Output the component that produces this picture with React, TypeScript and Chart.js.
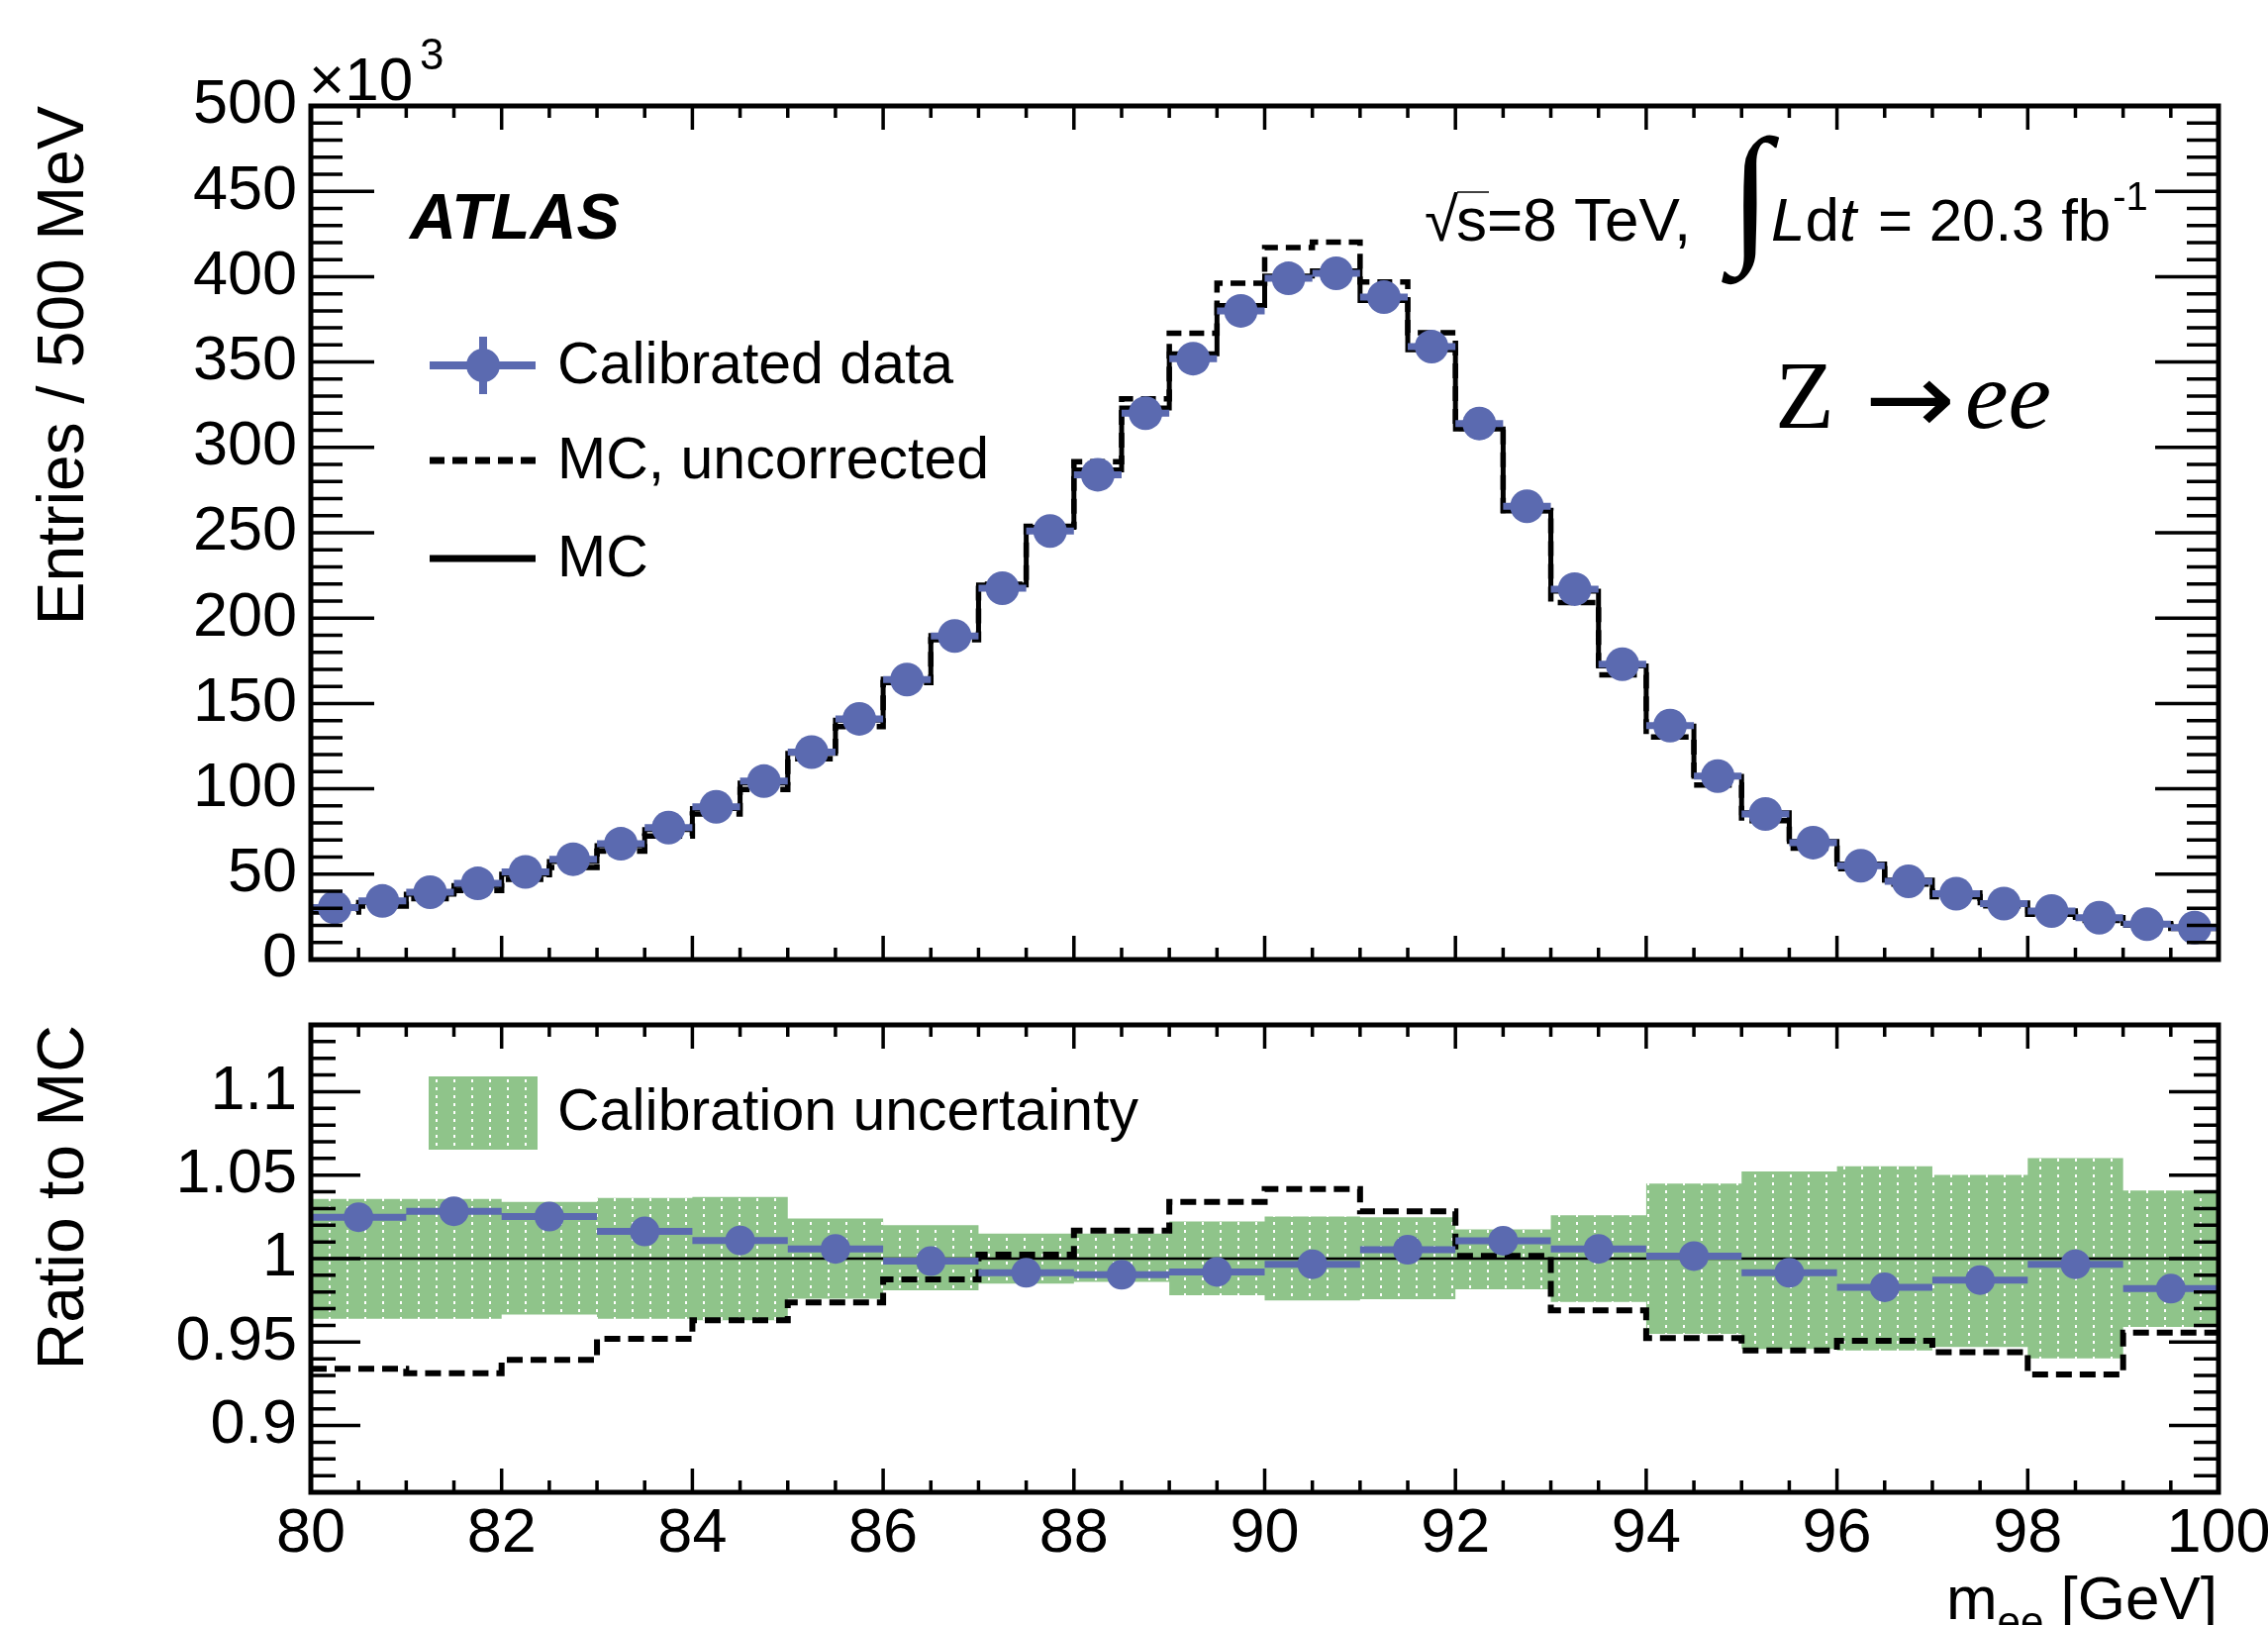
import React, { useEffect, useRef } from "react";
import { Chart, registerables } from "chart.js";

Chart.register(...registerables);

const FONT = '"Liberation Sans", Arial, Helvetica, sans-serif';
const SERIF = '"Liberation Serif", "Times New Roman", serif';
const BLUE = "#5b6ab0";
const GREEN = "#8fc48a";

// ---------- upper panel: 0.5 GeV bins (values in units of 10^3 entries) ----------
const MASS_TOP = [
  80.25, 80.75, 81.25, 81.75, 82.25, 82.75, 83.25, 83.75, 84.25, 84.75,
  85.25, 85.75, 86.25, 86.75, 87.25, 87.75, 88.25, 88.75, 89.25, 89.75,
  90.25, 90.75, 91.25, 91.75, 92.25, 92.75, 93.25, 93.75, 94.25, 94.75,
  95.25, 95.75, 96.25, 96.75, 97.25, 97.75, 98.25, 98.75, 99.25, 99.75,
];
const BIN_W_TOP = 0.5;
const DATA_TOP = [
  30.5, 34.3, 39.4, 44.6, 51.3, 58.8, 67.8, 77.3, 89.5, 104.5,
  121.5, 141, 164, 189.5, 217.5, 251, 284, 320, 352, 380,
  399, 402, 388, 359, 314, 265.5, 217, 173, 137, 107.5,
  85.3, 68.5, 55, 45.8, 38.6, 32.8, 28.4, 24.5, 20.7, 18.7,
];
const MC_TOP = [
  29.8, 33.5, 38.3, 43.4, 50.0, 57.4, 66.7, 76.1, 88.5, 103.4,
  120.8, 140.2, 164.3, 189.8, 219.4, 253.2, 286.8, 323.1, 354.8, 383.1,
  400.4, 403.4, 386.0, 357.1, 310.7, 262.7, 215.8, 172.0, 136.8, 107.3,
  86.0, 69.1, 56.0, 46.6, 39.1, 33.2, 28.5, 24.6, 21.1, 19.0,
];
const MC_UNCORR_TOP = [
  27.8, 31.3, 35.7, 40.4, 47.0, 53.9, 63.5, 72.4, 85.3, 99.6,
  117.6, 136.5, 162.2, 187.4, 219.9, 253.8, 291.6, 328.5, 366.9, 396.1,
  417.1, 420.2, 396.9, 367.2, 311.2, 263.1, 209.1, 166.7, 130.3, 102.2,
  81.3, 65.3, 53.2, 44.3, 36.9, 31.4, 26.5, 22.9, 20.1, 18.2,
];

// ---------- lower panel: 1 GeV bins ----------
const MASS_RATIO = [
  80.5, 81.5, 82.5, 83.5, 84.5, 85.5, 86.5, 87.5, 88.5, 89.5,
  90.5, 91.5, 92.5, 93.5, 94.5, 95.5, 96.5, 97.5, 98.5, 99.5,
];
const BIN_W_RATIO = 1;
const RATIO_DATA = [
  1.0248, 1.0284, 1.0252, 1.0163, 1.0109, 1.0058, 0.9985, 0.9915, 0.9903, 0.992,
  0.9966, 1.0053, 1.0107, 1.0058, 1.0015, 0.9915, 0.9828, 0.9871, 0.9966, 0.982,
];
const RATIO_UNCORR = [
  0.934, 0.9313, 0.9393, 0.952, 0.963, 0.9738, 0.9876, 1.0024, 1.0167, 1.034,
  1.0417, 1.0284, 1.0017, 0.969, 0.9524, 0.945, 0.9507, 0.944, 0.9306, 0.9556,
];
const BAND_UP = [
  1.0357, 1.0357, 1.034, 1.0364, 1.0369, 1.024, 1.02, 1.015, 1.015, 1.0223,
  1.0252, 1.0248, 1.0175, 1.026, 1.0449, 1.0522, 1.0553, 1.0502, 1.0602, 1.0408,
];
const BAND_LO = [
  0.964, 0.964, 0.9665, 0.964, 0.963, 0.976, 0.981, 0.985, 0.986, 0.978,
  0.975, 0.9757, 0.9816, 0.974, 0.9549, 0.9459, 0.945, 0.947, 0.9403, 0.959,
];

// ---------- axes ----------
const X_TICK_LABELS = [80, 82, 84, 86, 88, 90, 92, 94, 96, 98, 100];
const TOP_Y_TICK_LABELS = [0, 50, 100, 150, 200, 250, 300, 350, 400, 450, 500];
const RATIO_Y_TICK_LABELS = [0.9, 0.95, 1, 1.05, 1.1];

// ---------- helpers building library data from the arrays ----------
const stepPoints = (centres: number[], w: number, vals: number[]) => {
  const pts: any[] = centres.map((c, i) => ({ x: c - w / 2, y: vals[i] }));
  pts.push({ x: centres[centres.length - 1] + w / 2, y: vals[vals.length - 1] });
  return pts;
};
const hBars = (centres: number[], w: number, vals: number[]) =>
  centres.flatMap((c, i) => [
    { x: c - w / 2, y: vals[i] },
    { x: c + w / 2, y: vals[i] },
    { x: c + w / 2, y: null },
  ]);
const markers = (centres: number[], vals: number[]) => centres.map((c, i) => ({ x: c, y: vals[i] }));

const framePlugin = (cfg: any) => ({
  id: "rootFrame",
  afterDatasetsDraw(chart: any) {
    const { ctx, chartArea } = chart;
    const { left, right, top, bottom } = chartArea;
    const xs = chart.scales.x;
    const ys = chart.scales.y;
    ctx.save();
    ctx.strokeStyle = "#000";
    ctx.lineCap = "butt";
    ctx.lineWidth = 3.5;
    ctx.beginPath();
    for (let i = 0; i <= cfg.xN; i++) {
      const px = xs.getPixelForValue(cfg.xMin + i * cfg.xStep);
      const len = i % cfg.xMajorEvery === 0 ? cfg.xMajorLen : cfg.xMinorLen;
      ctx.moveTo(px, bottom);
      ctx.lineTo(px, bottom - len);
      ctx.moveTo(px, top);
      ctx.lineTo(px, top + len);
    }
    for (let j = 0; j <= cfg.yN; j++) {
      const py = ys.getPixelForValue(cfg.yMin + j * cfg.yStep);
      const len = cfg.yIsMajor(j) ? cfg.yMajorLen : cfg.yMinorLen;
      ctx.moveTo(left, py);
      ctx.lineTo(left + len, py);
      ctx.moveTo(right, py);
      ctx.lineTo(right - len, py);
    }
    ctx.stroke();
    ctx.lineWidth = 5;
    ctx.strokeRect(left, top, right - left, bottom - top);
    ctx.restore();
  },
});

// draw a glyph so that its ink starts at x = left
const fillAtLeft = (ctx: CanvasRenderingContext2D, s: string, left: number, y: number) => {
  const m = ctx.measureText(s);
  ctx.fillText(s, left + m.actualBoundingBoxLeft, y);
  return left + m.actualBoundingBoxLeft + m.actualBoundingBoxRight;
};

// draw text horizontally stretched so that its ink spans [left, right]
const fillSpan = (ctx: CanvasRenderingContext2D, s: string, left: number, right: number, y: number) => {
  const m = ctx.measureText(s);
  const inkW = m.actualBoundingBoxLeft + m.actualBoundingBoxRight || m.width;
  const sx = (right - left) / inkW;
  ctx.save();
  ctx.translate(left, y);
  ctx.scale(sx, 1);
  ctx.fillText(s, m.actualBoundingBoxLeft, 0);
  ctx.restore();
};

const topTextPlugin = {
  id: "topText",
  afterDraw(chart: any) {
    const ctx = chart.ctx as CanvasRenderingContext2D;
    ctx.save();
    ctx.fillStyle = "#000";
    ctx.strokeStyle = "#000";
    ctx.textAlign = "left";
    ctx.textBaseline = "alphabetic";

    // x10^3
    ctx.font = `62px ${FONT}`;
    ctx.fillText("×10", 312, 101);
    ctx.font = `44px ${FONT}`;
    ctx.fillText("3", 424, 70);

    // ATLAS
    ctx.font = `italic bold 65px ${FONT}`;
    ctx.fillText("ATLAS", 414, 241);

    // sqrt(s) = 8 TeV, int L dt = 20.3 fb^-1
    const base = 243;
    ctx.font = `62px ${FONT}`;
    const sqEnd = fillAtLeft(ctx, "√", 1440, base);
    ctx.fillText("s=8 TeV,", 1471, base);
    ctx.lineWidth = 1.5;
    ctx.beginPath();
    ctx.moveTo(sqEnd - 1, 194);
    ctx.lineTo(1504, 194);
    ctx.stroke();
    // integral sign
    ctx.font = `100px ${SERIF}`;
    const m = ctx.measureText("∫");
    const h = m.actualBoundingBoxAscent + m.actualBoundingBoxDescent || 100;
    const size = (100 * 152) / h;
    ctx.font = `${size}px ${SERIF}`;
    const m2 = ctx.measureText("∫");
    ctx.fillText("∫", 1739 + m2.actualBoundingBoxLeft, 136 + m2.actualBoundingBoxAscent);
    let x = 1789;
    ctx.font = `italic 62px ${FONT}`;
    ctx.fillText("L", x, base);
    x += ctx.measureText("L").width;
    ctx.font = `62px ${FONT}`;
    ctx.fillText("d", x, base);
    x += ctx.measureText("d").width;
    ctx.font = `italic 62px ${FONT}`;
    ctx.fillText("t", x, base);
    ctx.font = `60px ${FONT}`;
    ctx.fillText("= 20.3 fb", 1897, base);
    x = 1897 + ctx.measureText("= 20.3 fb").width + 2;
    ctx.font = `40px ${FONT}`;
    ctx.fillText("-1", x, 212);

    // Z -> ee
    ctx.font = `98px ${SERIF}`;
    fillAtLeft(ctx, "Z", 1797, 432);
    ctx.font = `100px "DejaVu Sans", ${SERIF}`;
    fillSpan(ctx, "→", 1889, 1970, 437);
    ctx.font = `italic 98px ${SERIF}`;
    fillAtLeft(ctx, "ee", 1988, 432);

    // legend
    ctx.lineCap = "butt";
    ctx.strokeStyle = BLUE;
    ctx.lineWidth = 8;
    ctx.beginPath();
    ctx.moveTo(434, 369);
    ctx.lineTo(541, 369);
    ctx.moveTo(488, 340);
    ctx.lineTo(488, 398);
    ctx.stroke();
    ctx.fillStyle = BLUE;
    ctx.beginPath();
    ctx.arc(488, 369, 17, 0, Math.PI * 2);
    ctx.fill();

    ctx.strokeStyle = "#000";
    ctx.lineWidth = 7;
    ctx.setLineDash([15, 8]);
    ctx.beginPath();
    ctx.moveTo(434, 465);
    ctx.lineTo(541, 465);
    ctx.stroke();
    ctx.setLineDash([]);
    ctx.lineWidth = 7;
    ctx.beginPath();
    ctx.moveTo(434, 564);
    ctx.lineTo(541, 564);
    ctx.stroke();

    ctx.fillStyle = "#000";
    ctx.font = `59px ${FONT}`;
    ctx.textBaseline = "middle";
    ctx.fillText("Calibrated data", 563, 371);
    ctx.fillText("MC, uncorrected", 563, 467);
    ctx.fillText("MC", 563, 566);
    ctx.restore();
  },
};

const makeBottomTextPlugin = (pattern: any) => ({
  id: "bottomText",
  afterDraw(chart: any) {
    const ctx = chart.ctx as CanvasRenderingContext2D;
    ctx.save();
    ctx.fillStyle = pattern;
    ctx.fillRect(433, 87, 110, 74);
    ctx.fillStyle = "#000";
    ctx.font = `59px ${FONT}`;
    ctx.textAlign = "left";
    ctx.textBaseline = "middle";
    ctx.fillText("Calibration uncertainty", 563, 125);

    ctx.textBaseline = "alphabetic";
    ctx.textAlign = "right";
    ctx.font = `62px ${FONT}`;
    ctx.fillText("[GeV]", 2240, 635);
    const gw = ctx.measureText(" [GeV]").width;
    ctx.font = `42px ${FONT}`;
    ctx.fillText("ee", 2240 - gw, 652);
    const ew = ctx.measureText("ee").width;
    ctx.font = `62px ${FONT}`;
    ctx.fillText("m", 2240 - gw - ew, 635);
    ctx.restore();
  },
});

const tickFont = { family: FONT, size: 63 };
const titleFont = { family: FONT, size: 66 };

export default function App() {
  const topRef = useRef<HTMLCanvasElement | null>(null);
  const botRef = useRef<HTMLCanvasElement | null>(null);

  useEffect(() => {
    Chart.defaults.font.family = FONT;
    Chart.defaults.color = "#000";

    const topChart = new Chart(topRef.current as HTMLCanvasElement, {
      type: "line",
      data: {
        datasets: [
          {
            label: "Calibrated data",
            data: markers(MASS_TOP, DATA_TOP),
            showLine: false,
            pointRadius: 17,
            pointBackgroundColor: BLUE,
            pointBorderWidth: 0,
            order: 0,
          },
          {
            label: "data bins",
            data: hBars(MASS_TOP, BIN_W_TOP, DATA_TOP),
            borderColor: BLUE,
            borderWidth: 7,
            pointRadius: 0,
            spanGaps: false,
            borderCapStyle: "butt",
            order: 1,
          },
          {
            label: "MC",
            data: stepPoints(MASS_TOP, BIN_W_TOP, MC_TOP),
            stepped: "before",
            borderColor: "#000",
            borderWidth: 5,
            pointRadius: 0,
            order: 2,
          },
          {
            label: "MC, uncorrected",
            data: stepPoints(MASS_TOP, BIN_W_TOP, MC_UNCORR_TOP),
            stepped: "before",
            borderColor: "#000",
            borderWidth: 5.5,
            borderDash: [15, 8],
            pointRadius: 0,
            order: 3,
          },
        ] as any,
      },
      options: {
        animation: false,
        responsive: false,
        events: [],
        layout: { padding: { left: 0, top: 107, right: 50, bottom: 0 } },
        plugins: { legend: { display: false }, tooltip: { enabled: false } },
        scales: {
          x: {
            type: "linear",
            min: 80,
            max: 100,
            grid: { display: false, drawTicks: false },
            border: { display: false },
            ticks: { display: false },
            afterFit: (s: any) => {
              s.height = 31;
              s.paddingLeft = 0;
              s.paddingRight = 0;
            },
          },
          y: {
            type: "linear",
            min: 0,
            max: 500,
            grid: { display: false, drawTicks: false },
            border: { display: false },
            afterBuildTicks: (s: any) => {
              s.ticks = TOP_Y_TICK_LABELS.map((v) => ({ value: v }));
            },
            ticks: {
              font: tickFont,
              color: "#000",
              padding: 14,
              autoSkip: false,
              callback: (v: any) => String(v),
            },
            title: {
              display: true,
              text: "Entries / 500 MeV",
              align: "end",
              color: "#000",
              font: titleFont,
              padding: { top: 26, bottom: 0 },
            },
            afterFit: (s: any) => {
              s.width = 314;
              s.paddingTop = 0;
              s.paddingBottom = 0;
            },
          },
        } as any,
      },
      plugins: [
        framePlugin({
          xMin: 80, xStep: 0.5, xN: 40, xMajorEvery: 4, xMajorLen: 24, xMinorLen: 12,
          yMin: 0, yStep: 10, yN: 50, yIsMajor: (j: number) => j % 5 === 0, yMajorLen: 64, yMinorLen: 32,
        }),
        topTextPlugin,
      ],
    } as any);

    // dotted green pattern for the uncertainty band
    const pc = document.createElement("canvas");
    pc.width = 18;
    pc.height = 8;
    const pctx = pc.getContext("2d") as CanvasRenderingContext2D;
    pctx.fillStyle = GREEN;
    pctx.fillRect(0, 0, 18, 8);
    pctx.fillStyle = "#ffffff";
    pctx.fillRect(8, 2, 2, 3);
    const botCtx = (botRef.current as HTMLCanvasElement).getContext("2d") as CanvasRenderingContext2D;
    const pattern = botCtx.createPattern(pc, "repeat");

    const botChart = new Chart(botRef.current as HTMLCanvasElement, {
      type: "line",
      data: {
        datasets: [
          {
            label: "data / MC",
            data: markers(MASS_RATIO, RATIO_DATA),
            showLine: false,
            pointRadius: 15,
            pointBackgroundColor: BLUE,
            pointBorderWidth: 0,
            order: 0,
          },
          {
            label: "data / MC bins",
            data: hBars(MASS_RATIO, BIN_W_RATIO, RATIO_DATA),
            borderColor: BLUE,
            borderWidth: 7,
            pointRadius: 0,
            spanGaps: false,
            borderCapStyle: "butt",
            order: 1,
          },
          {
            label: "unity",
            data: [
              { x: 80, y: 1 },
              { x: 100, y: 1 },
            ],
            borderColor: "#000",
            borderWidth: 2.5,
            pointRadius: 0,
            order: 2,
          },
          {
            label: "MC uncorrected / MC",
            data: stepPoints(MASS_RATIO, BIN_W_RATIO, RATIO_UNCORR),
            stepped: "before",
            borderColor: "#000",
            borderWidth: 6,
            borderDash: [16, 8],
            pointRadius: 0,
            order: 3,
          },
          {
            label: "Calibration uncertainty",
            data: stepPoints(MASS_RATIO, BIN_W_RATIO, BAND_UP),
            stepped: "before",
            borderColor: "rgba(0,0,0,0)",
            borderWidth: 0,
            pointRadius: 0,
            fill: "+1",
            backgroundColor: pattern,
            order: 4,
          },
          {
            label: "band low",
            data: stepPoints(MASS_RATIO, BIN_W_RATIO, BAND_LO),
            stepped: "before",
            borderColor: "rgba(0,0,0,0)",
            borderWidth: 0,
            pointRadius: 0,
            order: 5,
          },
        ] as any,
      },
      options: {
        animation: false,
        responsive: false,
        events: [],
        layout: { padding: { left: 0, top: 35, right: 50, bottom: 0 } },
        plugins: { legend: { display: false }, tooltip: { enabled: false }, filler: { propagate: false } },
        scales: {
          x: {
            type: "linear",
            min: 80,
            max: 100,
            grid: { display: false, drawTicks: false },
            border: { display: false },
            afterBuildTicks: (s: any) => {
              s.ticks = X_TICK_LABELS.map((v) => ({ value: v }));
            },
            ticks: {
              font: tickFont,
              color: "#000",
              padding: 5,
              autoSkip: false,
              maxRotation: 0,
              minRotation: 0,
              callback: (v: any) => String(v),
            },
            afterFit: (s: any) => {
              s.height = 134;
              s.paddingLeft = 0;
              s.paddingRight = 0;
            },
          },
          y: {
            type: "linear",
            min: 0.86,
            max: 1.14,
            grid: { display: false, drawTicks: false },
            border: { display: false },
            afterBuildTicks: (s: any) => {
              s.ticks = RATIO_Y_TICK_LABELS.map((v) => ({ value: v }));
            },
            ticks: {
              font: tickFont,
              color: "#000",
              padding: 14,
              autoSkip: false,
              callback: (v: any) => String(Number(Number(v).toFixed(2))),
            },
            title: {
              display: true,
              text: "Ratio to MC",
              align: "end",
              color: "#000",
              font: titleFont,
              padding: { top: 26, bottom: 0 },
            },
            afterFit: (s: any) => {
              s.width = 314;
              s.paddingTop = 0;
              s.paddingBottom = 0;
            },
          },
        } as any,
      },
      plugins: [
        framePlugin({
          xMin: 80, xStep: 0.5, xN: 40, xMajorEvery: 4, xMajorLen: 24, xMinorLen: 12,
          yMin: 0.86, yStep: 0.01, yN: 28, yIsMajor: (j: number) => (86 + j) % 5 === 0, yMajorLen: 50, yMinorLen: 25,
        }),
        makeBottomTextPlugin(pattern),
      ],
    } as any);

    return () => {
      topChart.destroy();
      botChart.destroy();
    };
  }, []);

  return (
    <div style={{ position: "absolute", left: 0, top: 0, width: 2291, height: 1641, background: "#fff", overflow: "hidden" }}>
      <canvas ref={topRef} width={2291} height={1000} style={{ position: "absolute", left: 0, top: 0, display: "block" }} />
      <canvas ref={botRef} width={2291} height={641} style={{ position: "absolute", left: 0, top: 1000, display: "block" }} />
    </div>
  );
}
